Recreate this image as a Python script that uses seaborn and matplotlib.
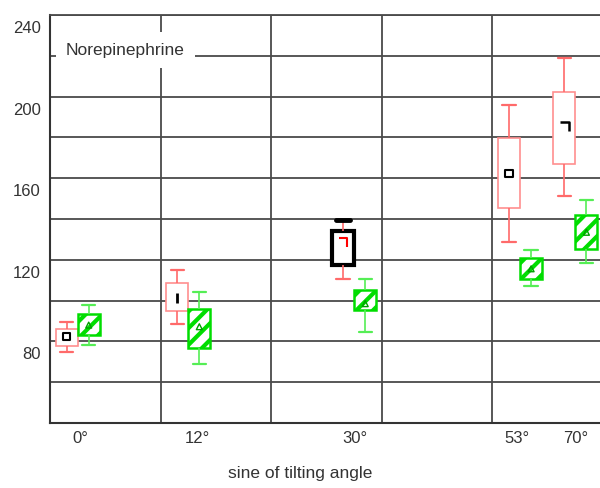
import numpy as np
import matplotlib
matplotlib.use("Agg")
import matplotlib.pyplot as plt
import matplotlib.transforms as mtransforms
from matplotlib.path import Path
import seaborn as sns

# tilt angles and where each pair of boxes sits on the x axis
angles = ["0°", "12°", "30°", "53°", "70°"]
angle_pos = [0.25, 1.25, 2.75, 4.25, 4.75]

# red series: whisker low, box low, centre mark, box high, whisker high
red_lo = [74.6, 88.4, 110.7, 128.9, 151.4]
red_q1 = [77.6, 94.8, 117.6, 145.2, 167.2]
red_mid = [82.4, 101.3, 128.6, 162.4, 185.5]
red_q3 = [86.3, 108.8, 134.0, 179.8, 202.1]
red_hi = [89.3, 114.8, 139.7, 195.8, 218.9]

# green series
green_lo = [78.2, 68.8, 84.7, 107.2, 118.4]
green_q1 = [83.1, 76.9, 95.3, 110.7, 125.4]
green_mid = [88.0, 87.2, 98.5, 115.6, 133.5]
green_q3 = [93.3, 95.8, 105.0, 120.8, 142.0]
green_hi = [97.7, 104.2, 110.7, 124.9, 149.3]

y_ticks = [80, 120, 160, 200, 240]

#-----------------------------------------------------------------------------------------------------
sns.set_style("white")
plt.rcParams["font.family"] = ["Liberation Sans", "DejaVu Sans"]
plt.rcParams["hatch.linewidth"] = 3.0

TEXT = "#333333"
GRID = "#4a4a4a"
RED_BOX = "#ff8f8f"
RED_WHISK = "#ff6a6a"
GREEN_BOX = "#00dd00"
GREEN_WHISK = "#55ee55"

corner = Path([(-1, 1), (1, 1), (1, -1)], [Path.MOVETO, Path.LINETO, Path.LINETO])

fig = plt.figure(figsize=(6.0, 4.88), dpi=100)
ax = fig.add_axes([50 / 600, 65 / 488, 553 / 600, 408 / 488])


def draw_box(x, stats, edge, whisk, lw, hatch=None):
    n0 = len(ax.lines)
    sns.boxplot(x=[x] * 5, y=stats, orient="x", native_scale=True, width=0.2,
                whis=(0, 100), color="white", linecolor=edge, linewidth=lw,
                saturation=1, showfliers=False,
                medianprops=dict(linewidth=0),
                whiskerprops=dict(color=whisk, linewidth=1.2),
                capprops=dict(color=whisk, linewidth=1.6),
                capwidths=0.12, ax=ax, zorder=3)
    box = ax.patches[-1]
    box.set_facecolor("white")
    if hatch:
        box.set_hatch(hatch)
    return box, ax.lines[n0:]


# red boxes (left of each pair)
for i in range(len(angles)):
    stats = [red_lo[i], red_q1[i], red_mid[i], red_q3[i], red_hi[i]]
    box, lines = draw_box(angle_pos[i] - 0.1, stats, RED_BOX, RED_WHISK, 1.2)
    if angles[i] == "30°":
        box.set_edgecolor("black")
        box.set_linewidth(3.0)
        for ln in lines:
            if np.allclose(ln.get_ydata(), red_hi[i]):
                ln.set_color("black")
                ln.set_linewidth(3.5)

# green boxes (right of each pair)
for i in range(len(angles)):
    stats = [green_lo[i], green_q1[i], green_mid[i], green_q3[i], green_hi[i]]
    draw_box(angle_pos[i] + 0.1, stats, GREEN_BOX, GREEN_WHISK, 1.8, hatch="//")

# centre marks
red_x = [p - 0.1 for p in angle_pos]
green_x = [p + 0.1 for p in angle_pos]
sq = [0, 3]
sns.scatterplot(x=[red_x[i] for i in sq], y=[red_mid[i] for i in sq], marker="s",
                s=28, color="black", facecolor="none", edgecolor="black",
                linewidth=1.5, ax=ax, zorder=6)
sns.scatterplot(x=[red_x[1]], y=[red_mid[1]], marker="|", s=45, color="black",
                linewidth=2, ax=ax, zorder=6)
sns.scatterplot(x=[red_x[4]], y=[red_mid[4]], marker=corner, s=40, color="black",
                facecolor="none", edgecolor="black", linewidth=1.8, ax=ax, zorder=6)
sns.scatterplot(x=[red_x[2]], y=[red_mid[2]], marker=corner, s=40, color="red",
                facecolor="none", edgecolor="red", linewidth=1.5, ax=ax, zorder=6)
sns.scatterplot(x=green_x, y=green_mid, marker="^", s=18, color=GREEN_BOX,
                facecolor="none", edgecolor="#00a000", linewidth=1.0, ax=ax, zorder=6)

# axes, grid and labels
ax.set_xlim(0, 5)
ax.set_ylim(40, 240)
ax.set_xticks([0.27, 1.33, 2.76, 4.22, 4.75])
ax.set_xticklabels(angles)
ax.set_xticks([1, 2, 3, 4], minor=True)
ax.set_yticks(y_ticks)
ax.set_yticks([60, 100, 140, 180, 220], minor=True)
ax.set_axisbelow(True)
ax.yaxis.grid(True, which="both", color=GRID, linewidth=1.3)
ax.xaxis.grid(True, which="minor", color=GRID, linewidth=1.3)
ax.xaxis.grid(False, which="major")
for t in ax.xaxis.get_minor_ticks():
    if abs(t.get_loc() - 4) < 1e-6:
        t.gridline.set_color("black")
        t.gridline.set_linewidth(1.0)

ax.tick_params(which="both", length=0, labelsize=12, labelcolor=TEXT)
ax.tick_params(axis="x", pad=6)
ax.tick_params(axis="y", pad=6.5)
ax.set_xlabel("sine of tilting angle", fontsize=12.5, color=TEXT)
ax.xaxis.set_label_coords(0.452, -0.105)
ax.set_ylabel("")

offset = mtransforms.ScaledTranslation(0, -0.12, fig.dpi_scale_trans)
for t in ax.yaxis.get_major_ticks():
    t.label1.set_transform(t.label1.get_transform() + offset)

for side in ["left", "bottom"]:
    ax.spines[side].set_color("#333333")
    ax.spines[side].set_linewidth(1.5)
ax.spines["top"].set_color(GRID)
ax.spines["top"].set_linewidth(1.3)
ax.spines["right"].set_visible(False)

ax.text(0.029, 0.914, "Norepinephrine", transform=ax.transAxes, ha="left",
        va="center", fontsize=12.5, color=TEXT, zorder=7,
        bbox=dict(facecolor="white", edgecolor="none", boxstyle="square,pad=0.6"))

fig.savefig("out.png", dpi=100)
